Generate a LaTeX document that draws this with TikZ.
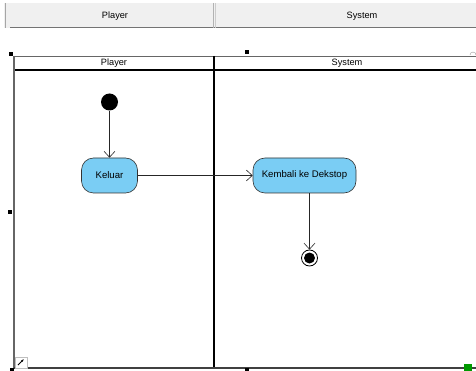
\documentclass[tikz,border=0pt]{standalone}
\usepackage{fontspec}
\setmainfont{Liberation Sans}
\usetikzlibrary{arrows.meta}
\definecolor{actblue}{HTML}{7ACDF4}
\definecolor{hdrgrey}{HTML}{F0F0F0}
\tikzset{
  px/.style={x=1pt,y=-1pt},
  act/.style={draw=black!80,fill=actblue,rounded corners=12pt,minimum height=35pt,inner sep=2pt,font=\fontsize{9.6}{11}\selectfont,line width=0.6pt},
  flow/.style={draw=black!85,line width=0.6pt,-{Straight Barb[length=6pt,width=11pt,line width=0.6pt]}},
  lane/.style={draw=black,line width=1.4pt},
  handle/.style={fill=black,minimum size=4pt,inner sep=0pt},
  hdr/.style={font=\fontsize{9.2}{10}\selectfont}
}
\begin{document}
\begin{tikzpicture}[px]
\useasboundingbox (0,0) rectangle (476,371);
% top header bar
\fill[hdrgrey] (4,3) rectangle (476,28);
\draw[black!35,line width=1pt] (5,3) -- (5,28);
\draw[black!55,line width=1pt] (10,28) -- (476,28);
\draw[black!30,line width=0.8pt] (213,3) -- (213,28);
\draw[black!20,line width=0.8pt] (215,3) -- (215,28);
\node[hdr] (hp) at (115,16) {Player};
\node[hdr] (hs) at (362,16) {System};
% swimlanes
\draw[black!60,line width=1.2pt] (14,56.5) -- (476,56.5);
\draw[lane] (14,70) -- (476,70);
\draw[black!60,line width=1.4pt] (14,56) -- (14,368);
\draw[lane] (214,56) -- (214,369);
\draw[black!75,line width=1.2pt] (14,368) -- (476,368);
\node[hdr] (lp) at (114,63) {Player};
\node[hdr] (ls) at (347,63) {System};
% handles
\node[handle] (h1) at (11,54) {};
\node[handle] (h2) at (247,52) {};
\node[handle] (h3) at (10,212) {};
\node[handle] (h4) at (12,370) {};
\node[handle] (h5) at (247,370) {};
% small icons
\draw[black!25,fill=white] (15,357) rectangle (27,368);
\draw[-{Latex[length=3pt]},line width=1pt] (18,365) -- (24,359);
\fill[green!60!black] (464,364) rectangle (472,371);
\draw[black!40] (470,55) arc (180:360:3);
% nodes
\node[circle,fill=black,minimum size=17pt,inner sep=0pt] (start) at (109.5,102) {};
\node[act,minimum width=56pt] (keluar) at (109.5,175.5) {Keluar};
\node[act,minimum width=103pt] (kembali) at (304.5,175.5) {Kembali ke Dekstop};
\node[circle,draw=black,line width=0.8pt,fill=white,minimum size=16pt,inner sep=0pt] (end) at (309.5,258) {};
\node[circle,fill=black,minimum size=11pt,inner sep=0pt] (endin) at (end) {};
% flows
\draw[flow] (start) -- (keluar);
\draw[flow] (keluar) -- (kembali);
\draw[flow] (kembali.south -| end) -- (end);
\end{tikzpicture}
\end{document}
